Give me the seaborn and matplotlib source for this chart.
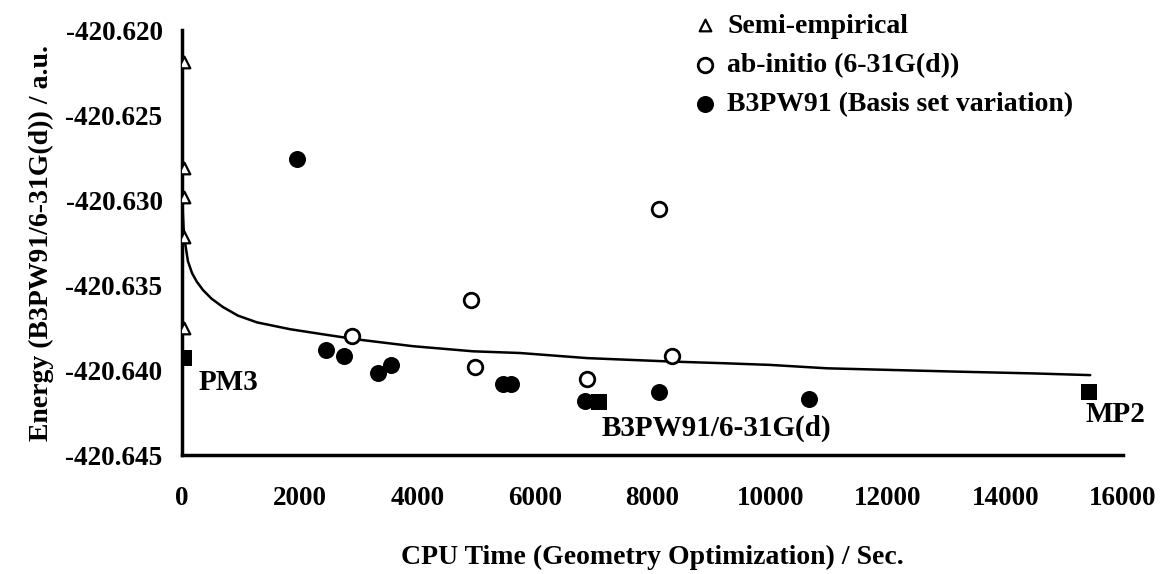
import matplotlib
matplotlib.use("Agg")
import matplotlib.pyplot as plt
import seaborn as sns
import pandas as pd

# ---- data ----
semi_x = [30, 30, 30, 30, 30]
semi_y = [-420.6219, -420.6281, -420.6298, -420.6322, -420.6375]

abinitio_x = [2891, 4915, 4983, 6888, 8112, 8333]
abinitio_y = [-420.6380, -420.6359, -420.6398, -420.6405, -420.6305, -420.6392]

b3pw91_x = [1956, 2449, 2755, 3333, 3554, 5459, 5595, 6854, 8112, 10660]
b3pw91_y = [-420.6276, -420.6388, -420.6392, -420.6402, -420.6397,
            -420.6408, -420.6408, -420.6418, -420.6413, -420.6417]

ref_names = ["PM3", "B3PW91/6-31G(d)", "MP2"]
ref_x = [40, 7092, 15425]
ref_y = [-420.6393, -420.6419, -420.6413]

fit_x = [10, 25, 51, 100, 170, 250, 357, 500, 697, 950, 1276, 1837, 2398,
         2976, 3929, 4949, 5748, 6888, 8299, 9201, 10000, 10969, 12092,
         13231, 14473, 15442]
fit_y = [-420.6305, -420.6316, -420.6325, -420.6336, -420.6343, -420.6348,
         -420.6353, -420.6358, -420.6363, -420.6368, -420.6372, -420.6376,
         -420.6379, -420.6382, -420.6386, -420.6389, -420.6390, -420.6393,
         -420.6395, -420.6396, -420.6397, -420.6399, -420.6400, -420.6401,
         -420.6402, -420.6403]

x_ticks = [0, 2000, 4000, 6000, 8000, 10000, 12000, 14000, 16000]
y_ticks = [-420.645, -420.640, -420.635, -420.630, -420.625, -420.620]

sns.set_theme(style="white")
plt.rcParams["font.family"] = ["Liberation Serif", "DejaVu Serif"]
plt.rcParams["font.weight"] = "bold"
plt.rcParams["text.color"] = "black"
plt.rcParams["axes.labelcolor"] = "black"
plt.rcParams["xtick.color"] = "black"
plt.rcParams["ytick.color"] = "black"

fig = plt.figure(figsize=(11.64, 5.74), dpi=100)
ax = fig.add_axes([0.1564, 0.2073, 0.8084, 0.7404])

fit_df = pd.DataFrame({"x": fit_x, "y": fit_y})
sns.lineplot(data=fit_df, x="x", y="y", ax=ax, color="black", lw=1.8,
             sort=False, estimator=None, zorder=2)

semi_df = pd.DataFrame({"x": semi_x, "y": semi_y})
ab_df = pd.DataFrame({"x": abinitio_x, "y": abinitio_y})
b3_df = pd.DataFrame({"x": b3pw91_x, "y": b3pw91_y})
ref_df = pd.DataFrame({"x": ref_x, "y": ref_y})

sns.scatterplot(data=semi_df, x="x", y="y", ax=ax, marker="^", s=70,
                facecolor="white", edgecolor="black", linewidth=1.6,
                label="Semi-empirical", zorder=4)
sns.scatterplot(data=ab_df, x="x", y="y", ax=ax, marker="o", s=110,
                facecolor="white", edgecolor="black", linewidth=2,
                label="ab-initio (6-31G(d))", zorder=4)
sns.scatterplot(data=b3_df, x="x", y="y", ax=ax, marker="o", s=150,
                color="black", edgecolor="black", linewidth=0,
                label="B3PW91 (Basis set variation)", zorder=4)
sns.scatterplot(data=ref_df, x="x", y="y", ax=ax, marker="s", s=130,
                color="black", edgecolor="black", linewidth=0,
                legend=False, zorder=4)

# annotation labels for reference methods
offsets = [(14, -24, "left"), (2, -26, "left"), (-4, -22, "left")]
for name, xv, yv, (dx, dy, ha) in zip(ref_names, ref_x, ref_y, offsets):
    ax.annotate(name, (xv, yv), xytext=(dx, dy), textcoords="offset pixels",
                ha=ha, va="center", fontsize=21, fontweight="bold",
                color="black")

ax.set_xlim(0, 16000)
ax.set_ylim(-420.645, -420.620)
ax.set_xticks(x_ticks)
ax.set_xticklabels([str(v) for v in x_ticks])
ax.set_yticks(y_ticks)
ax.set_yticklabels([f"{v:.3f}" for v in y_ticks])

for side in ["top", "right"]:
    ax.spines[side].set_visible(False)
for side in ["left", "bottom"]:
    ax.spines[side].set_color("black")
    ax.spines[side].set_linewidth(2.5)

ax.tick_params(axis="both", direction="out", length=8, width=2.5,
               colors="black", labelsize=19.5)
ax.tick_params(axis="x", pad=14)
ax.tick_params(axis="y", pad=6)
for lab in ax.get_xticklabels() + ax.get_yticklabels():
    lab.set_fontweight("bold")

ax.set_xlabel("CPU Time (Geometry Optimization) / Sec.", fontsize=20,
              fontweight="bold", labelpad=25)
ax.set_ylabel("Energy (B3PW91/6-31G(d)) / a.u.", fontsize=20,
              fontweight="bold", labelpad=8)

leg = ax.legend(loc="upper left", bbox_to_anchor=(0.535, 1.066), frameon=False,
                fontsize=20, handlelength=0.6, handletextpad=0.5,
                labelspacing=0.5, borderaxespad=0)
for t in leg.get_texts():
    t.set_fontweight("bold")
    t.set_color("black")

ax.set_facecolor("white")
fig.patch.set_facecolor("white")
fig.savefig("out.png", dpi=100)
